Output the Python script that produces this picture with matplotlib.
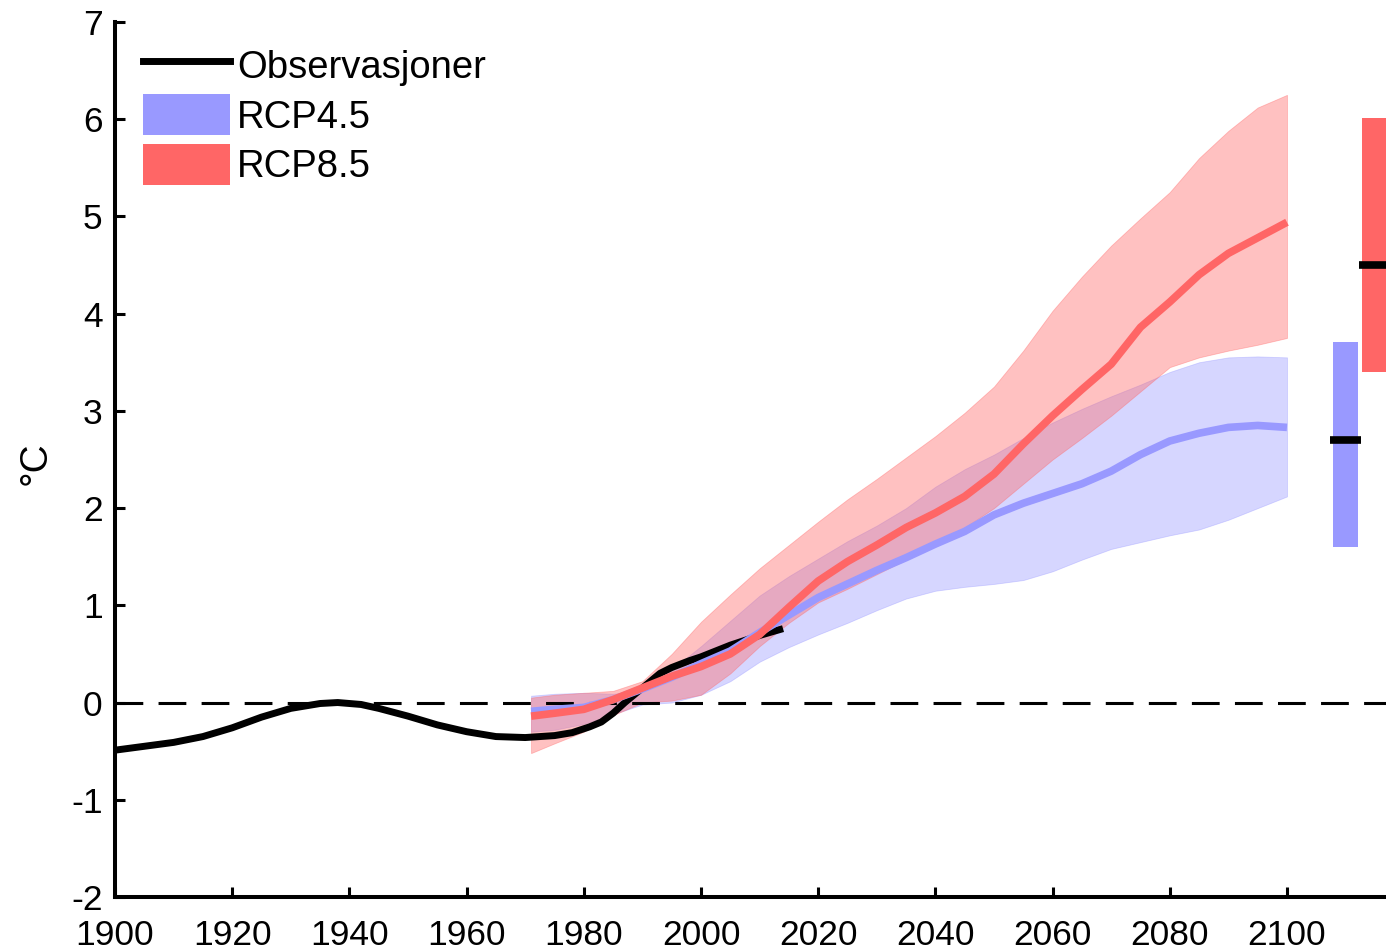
import matplotlib
matplotlib.use("Agg")
import matplotlib.pyplot as plt
from matplotlib.lines import Line2D
from matplotlib.patches import Patch

plt.rcParams['font.family'] = ['Liberation Sans', 'DejaVu Sans']
plt.rcParams['lines.scale_dashes'] = False

# ---------------- data ----------------
obs_years = [1900, 1905, 1910, 1915, 1920, 1925, 1930, 1935, 1938, 1942, 1945,
             1950, 1955, 1960, 1965, 1970, 1975, 1978, 1981, 1983, 1985, 1987,
             1990, 1993, 1995, 1998, 2000, 2005, 2010, 2014]
obs_vals = [-0.49, -0.45, -0.41, -0.35, -0.26, -0.15, -0.06, -0.01, 0.00, -0.02,
            -0.06, -0.14, -0.23, -0.30, -0.35, -0.36, -0.34, -0.31, -0.25, -0.20,
            -0.11, 0.00, 0.15, 0.30, 0.36, 0.43, 0.47, 0.59, 0.69, 0.76]

model_years = [1971, 1975, 1980, 1985, 1990, 1995, 2000, 2005, 2010, 2015, 2020,
               2025, 2030, 2035, 2040, 2045, 2050, 2055, 2060, 2065, 2070, 2075,
               2080, 2085, 2090, 2095, 2100]

rcp45_mean = [-0.09, -0.07, -0.05, 0.03, 0.14, 0.26, 0.40, 0.53, 0.72, 0.90, 1.08,
              1.22, 1.36, 1.49, 1.63, 1.76, 1.93, 2.05, 2.15, 2.25, 2.38, 2.55,
              2.69, 2.77, 2.83, 2.85, 2.83]
rcp45_low = [-0.30, -0.28, -0.22, -0.12, -0.02, 0.00, 0.08, 0.22, 0.42, 0.57, 0.70,
             0.82, 0.95, 1.07, 1.15, 1.19, 1.22, 1.26, 1.35, 1.47, 1.58, 1.65,
             1.72, 1.78, 1.88, 2.00, 2.12]
rcp45_high = [0.07, 0.09, 0.10, 0.09, 0.12, 0.34, 0.58, 0.84, 1.10, 1.30, 1.48,
              1.66, 1.82, 2.00, 2.22, 2.40, 2.55, 2.72, 2.88, 3.02, 3.15, 3.27,
              3.40, 3.50, 3.55, 3.56, 3.55]

rcp85_mean = [-0.14, -0.11, -0.07, 0.03, 0.15, 0.27, 0.37, 0.50, 0.70, 0.98, 1.25,
              1.45, 1.62, 1.80, 1.95, 2.12, 2.35, 2.66, 2.95, 3.22, 3.48, 3.86,
              4.12, 4.40, 4.62, 4.78, 4.94]
rcp85_low = [-0.52, -0.42, -0.30, -0.13, 0.00, 0.02, 0.08, 0.30, 0.58, 0.82, 1.03,
             1.17, 1.32, 1.47, 1.62, 1.80, 2.00, 2.25, 2.50, 2.72, 2.95, 3.20,
             3.45, 3.55, 3.62, 3.68, 3.75]
rcp85_high = [0.05, 0.08, 0.10, 0.12, 0.22, 0.50, 0.83, 1.11, 1.38, 1.62, 1.86,
              2.09, 2.30, 2.52, 2.74, 2.98, 3.25, 3.62, 4.03, 4.38, 4.70, 4.98,
              5.25, 5.60, 5.88, 6.12, 6.25]

# end-of-century ranges (bars at the right)
bar_x = [2110, 2115]
bar_low = [1.60, 3.40]
bar_high = [3.71, 6.01]
bar_median = [2.70, 4.50]
bar_width = 4.3

labels = ['Observasjoner', 'RCP4.5', 'RCP8.5']
xticks = list(range(1900, 2101, 20))
yticks = list(range(-2, 8))

BLUE = '#9999FF'
RED = '#FF6666'

# ---------------- figure ----------------
fig = plt.figure(figsize=(13.86, 9.51), dpi=100)
ax = fig.add_axes([0.083, 0.0568, 0.917, 0.9201])

ax.fill_between(model_years, rcp45_low, rcp45_high, color=BLUE, alpha=0.4,
                linewidth=0.6, zorder=1)
ax.fill_between(model_years, rcp85_low, rcp85_high, color=RED, alpha=0.4,
                linewidth=0.6, zorder=2)

ax.axhline(0, color='black', lw=2.2, ls=(0, (20, 11)), zorder=3)

ax.plot(obs_years, obs_vals, color='black', lw=5, solid_capstyle='butt',
        solid_joinstyle='round', zorder=4)
ax.plot(model_years, rcp45_mean, color=BLUE, lw=5.5, solid_capstyle='butt',
        zorder=5)
ax.plot(model_years, rcp85_mean, color=RED, lw=5.5, solid_capstyle='butt',
        zorder=6)

bar_colors = [BLUE, RED]
for xc, lo, hi, med, c in zip(bar_x, bar_low, bar_high, bar_median, bar_colors):
    ax.bar(xc, hi - lo, bottom=lo, width=bar_width, color=c, zorder=5,
           linewidth=0)
    ax.hlines(med, xc - bar_width / 2 - 0.5, xc + bar_width / 2 + 0.5,
              color='black', lw=5.5, zorder=6)

ax.set_xlim(1900, 2116.9)
ax.set_ylim(-2, 7)
ax.set_xticks(xticks)
ax.set_yticks(yticks)
ax.set_xticklabels([str(t) for t in xticks])
ax.set_yticklabels([str(t) for t in yticks])

for s in ['top', 'right']:
    ax.spines[s].set_visible(False)
for s in ['left', 'bottom']:
    ax.spines[s].set_linewidth(2.9)
ax.tick_params(direction='in', length=7, width=2.2, labelsize=25.5)
ax.tick_params(axis='y', pad=9)
ax.tick_params(axis='x', pad=16)

ax.set_ylabel('°C', fontsize=28)
ax.yaxis.set_label_coords(-0.048, 0.496)

handles = [Line2D([], [], color='black', lw=5),
           Patch(facecolor=BLUE, edgecolor='none'),
           Patch(facecolor=RED, edgecolor='none')]
ax.legend(handles, labels, loc='upper left', bbox_to_anchor=(0.013, 0.987),
          frameon=False, fontsize=27.5, handlelength=2.27, handleheight=1.26,
          handletextpad=0.19, labelspacing=0.22, borderaxespad=0.0,
          borderpad=0.3)

fig.savefig('out.png', dpi=100)
